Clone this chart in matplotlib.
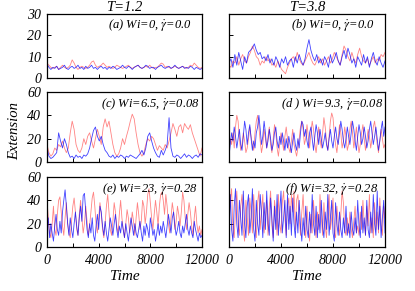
import matplotlib
matplotlib.use('Agg')
import matplotlib.pyplot as plt
import numpy as np

plt.rcParams['font.family'] = ['Liberation Serif', 'DejaVu Serif']
plt.rcParams['mathtext.fontset'] = 'stix'

# time grids (slow panels sampled every 150, fast panels every 100)
t_slow = np.arange(0, 12001, 150)
t_fast = np.arange(0, 12001, 100)

# (a) T=1.2, Wi=0
a_red = [7, 6, 5, 4.5, 5, 5.5, 4, 5, 6, 5,
         4.5, 5, 6, 8.5, 7, 5, 4, 5, 5.5, 5,
         4.5, 5, 6, 7.5, 8, 6, 5, 5.5, 6, 7,
         6, 5, 5.5, 5, 4.5, 5, 6, 5.5, 5, 4.5,
         5, 5.5, 6, 5, 4.5, 5, 5.5, 6, 5, 4.5,
         5, 5.5, 5, 6, 5, 4.5, 5, 5, 6, 7,
         6.5, 5, 5.5, 5, 4.5, 5, 5.5, 5, 4.5, 5,
         5.5, 5, 4.5, 5, 6, 5.5, 7, 6, 5, 4.5,
         5]
a_blue = [6.5, 5, 4, 5, 4.5, 5.5, 4, 4.5, 5, 6,
          4.5, 4, 5, 5.5, 4.5, 5, 6, 4.5, 5, 4,
          5.5, 4.5, 5, 6, 4.5, 5, 4, 5, 5.5, 4.5,
          5, 4, 5, 4.5, 5.5, 5, 4, 4.5, 5, 6,
          5, 4.5, 5.5, 5, 4, 5, 5.5, 6, 5, 4.5,
          5, 6, 5.5, 4.5, 5, 5, 4, 5, 5.5, 6,
          5, 4.5, 5, 5.5, 4.5, 5, 6, 5, 4.5, 5,
          5.5, 4.5, 5, 4.5, 5.5, 5, 4, 5, 4.5, 4,
          4.5]

# (b) T=3.8, Wi=0
b_red = [6, 5, 8, 7, 10, 6, 9, 11, 8, 7,
         10, 12, 15, 13, 10, 9, 6, 8, 7, 10,
         8, 9, 6, 7, 5, 8, 6, 4, 3, 2,
         5, 7, 9, 10, 8, 12, 9, 7, 6, 8,
         10, 12, 9, 7, 6, 8, 10, 7, 9, 6,
         8, 10, 7, 9, 12, 10, 8, 6, 11, 15,
         13, 10, 8, 12, 9, 7, 11, 14, 10, 8,
         7, 9, 6, 8, 10, 7, 9, 8, 11, 10,
         12]
b_blue = [7, 9, 5, 11, 6, 12, 8, 4, 10, 7,
          12, 13, 14, 16, 13, 11, 12, 9, 10, 8,
          11, 7, 9, 6, 10, 8, 5, 9, 7, 10,
          6, 8, 9, 5, 10, 7, 11, 8, 6, 9,
          14, 18, 13, 10, 8, 11, 7, 9, 6, 10,
          8, 5, 11, 7, 9, 12, 8, 6, 10, 13,
          9, 14, 11, 7, 9, 5, 10, 8, 6, 11,
          7, 10, 5, 9, 12, 8, 6, 10, 7, 5,
          8]

# (c) T=1.2, Wi=6.5
c_red = [15, 8, 5, 7, 12, 10, 15, 13, 18, 12,
         8, 12, 25, 35, 28, 15, 10, 8, 12, 20,
         15, 22, 25, 18, 12, 20, 28, 22, 15, 30,
         37, 30, 35, 25, 15, 8, 5, 7, 12, 20,
         15, 22, 28, 35, 41, 37, 25, 15, 8, 5,
         8, 15, 20, 18, 22, 20, 15, 10, 14, 12,
         10, 15, 12, 18, 25, 33, 28, 22, 30, 32,
         25, 33, 30, 28, 32, 25, 20, 15, 10, 5,
         12]
c_blue = [12, 5, 3, 4, 6, 8, 25, 18, 12, 20,
          15, 8, 4, 5, 3, 6, 4, 5, 3, 6,
          5, 7, 12, 20, 27, 30, 22, 18, 22, 15,
          10, 8, 5, 4, 6, 3, 5, 4, 6, 5,
          3, 5, 4, 6, 5, 4, 3, 5, 7, 10,
          6, 12, 22, 25, 18, 12, 8, 5, 4, 10,
          6, 10, 15, 38, 12, 5, 4, 6, 5, 3,
          5, 7, 4, 6, 5, 3, 5, 6, 4, 7,
          6]

# (d) T=3.8, Wi=9.3
d_red = [10, 20, 15, 25, 12, 30, 40, 35, 20, 10,
         15, 25, 18, 8, 12, 20, 30, 22, 15, 10,
         25, 35, 40, 30, 18, 8, 15, 28, 20, 12,
         22, 30, 15, 8, 20, 32, 25, 12, 5, 15,
         25, 18, 10, 22, 30, 20, 12, 8, 18, 28,
         15, 10, 5, 12, 20, 30, 35, 28, 15, 20,
         32, 22, 12, 25, 35, 28, 15, 8, 18, 30,
         20, 12, 25, 38, 30, 18, 10, 22, 35, 42,
         38, 25, 15, 8, 20, 32, 25, 12, 18, 30,
         22, 10, 15, 28, 35, 25, 12, 20, 30, 18,
         8, 15, 25, 32, 20, 10, 18, 28, 22, 12,
         20, 30, 35, 25, 15, 8, 18, 28, 20, 12,
         15]
d_blue = [5, 15, 25, 18, 30, 22, 12, 20, 28, 15,
          10, 22, 35, 28, 15, 25, 32, 20, 10, 18,
          12, 25, 30, 40, 28, 15, 22, 35, 25, 12,
          18, 28, 20, 10, 15, 25, 30, 18, 12, 22,
          15, 25, 18, 10, 20, 12, 22, 15, 8, 18,
          25, 15, 10, 20, 12, 25, 35, 32, 22, 28,
          18, 12, 25, 30, 20, 10, 22, 32, 25, 15,
          28, 20, 12, 18, 25, 15, 10, 20, 28, 18,
          12, 22, 30, 20, 15, 25, 35, 28, 18, 12,
          20, 30, 22, 15, 25, 35, 28, 18, 10, 22,
          32, 25, 15, 20, 30, 22, 12, 18, 28, 35,
          25, 15, 22, 30, 20, 10, 18, 28, 35, 22,
          30]

# (e) T=1.2, Wi=23
e_red = [40, 25, 12, 8, 20, 35, 15, 10, 28, 40,
         43, 30, 18, 10, 25, 38, 20, 12, 8, 22,
         35, 42, 30, 15, 10, 28, 40, 25, 12, 20,
         35, 22, 10, 18, 30, 42, 47, 35, 20, 12,
         25, 38, 28, 15, 8, 20, 35, 45, 30, 15,
         10, 22, 38, 30, 18, 12, 28, 40, 25, 15,
         8, 20, 32, 25, 12, 18, 30, 22, 10, 25,
         38, 28, 15, 22, 40, 35, 20, 30, 45, 50,
         38, 25, 15, 28, 40, 30, 18, 35, 45, 47,
         40, 28, 45, 35, 20, 12, 25, 38, 30, 15,
         22, 35, 28, 18, 30, 47, 40, 25, 15, 28,
         38, 30, 18, 10, 25, 35, 20, 12, 18, 10,
         15]
e_blue = [15, 25, 8, 20, 12, 5, 18, 28, 15, 10,
          22, 12, 30, 40, 49, 35, 20, 10, 25, 15,
          8, 20, 30, 18, 10, 25, 35, 22, 44, 46,
          30, 15, 8, 20, 12, 25, 10, 5, 18, 28,
          15, 35, 30, 18, 10, 22, 12, 5, 15, 25,
          18, 10, 20, 28, 15, 8, 18, 12, 22, 15,
          8, 20, 12, 5, 15, 25, 18, 10, 20, 12,
          8, 15, 22, 12, 5, 18, 10, 20, 15, 8,
          25, 18, 10, 15, 5, 12, 20, 10, 18, 12,
          22, 15, 8, 18, 28, 20, 12, 25, 30, 18,
          10, 15, 22, 12, 8, 18, 12, 20, 28, 15,
          10, 18, 12, 8, 22, 15, 10, 5, 12, 8,
          10]

# (f) T=3.8, Wi=32
f_red = [20, 40, 50, 15, 8, 30, 48, 20, 10, 35,
         45, 15, 5, 40, 25, 10, 42, 30, 12, 45,
         20, 8, 38, 48, 15, 30, 45, 12, 25, 40,
         10, 35, 48, 18, 8, 40, 28, 10, 45, 20,
         12, 38, 48, 25, 10, 35, 42, 20, 45, 30,
         48, 15, 40, 45, 25, 10, 30, 45, 20, 8,
         35, 15, 5, 28, 12, 40, 20, 8, 30, 15,
         45, 25, 10, 38, 18, 8, 30, 45, 15, 25,
         42, 12, 8, 35, 20, 10, 28, 48, 38, 15,
         10, 25, 12, 30, 15, 8, 22, 35, 12, 18,
         10, 30, 15, 40, 20, 10, 35, 18, 45, 12,
         25, 8, 38, 15, 30, 12, 42, 20, 10, 35,
         25]
f_blue = [10, 45, 15, 5, 35, 50, 20, 8, 40, 25,
          10, 48, 20, 8, 35, 45, 12, 25, 50, 15,
          5, 40, 20, 10, 45, 30, 8, 38, 15, 48,
          20, 10, 42, 25, 5, 35, 15, 45, 10, 30,
          48, 12, 25, 40, 8, 45, 15, 35, 10, 42,
          20, 8, 30, 12, 40, 18, 5, 25, 10, 35,
          15, 8, 30, 12, 45, 20, 10, 35, 8, 28,
          12, 40, 18, 8, 30, 15, 45, 10, 25, 40,
          12, 5, 38, 20, 10, 30, 15, 8, 25, 12,
          35, 10, 20, 8, 30, 15, 10, 25, 12, 40,
          18, 8, 35, 12, 25, 10, 40, 15, 8, 30,
          12, 45, 20, 10, 48, 15, 35, 8, 25, 40,
          12]

labels = ['(a) Wi=0, $\\dot{\\gamma}$=0.0', '(b) Wi=0, $\\dot{\\gamma}$=0.0',
          '(c) Wi=6.5, $\\dot{\\gamma}$=0.08', '(d ) Wi=9.3, $\\dot{\\gamma}$=0.08',
          '(e) Wi=23, $\\dot{\\gamma}$=0.28', '(f) Wi=32, $\\dot{\\gamma}$=0.28']
panels = [(t_slow, a_red, a_blue), (t_slow, b_red, b_blue),
          (t_slow, c_red, c_blue), (t_fast, d_red, d_blue),
          (t_fast, e_red, e_blue), (t_fast, f_red, f_blue)]

fig = plt.figure(figsize=(4.15, 2.91), dpi=100)
lefts = [47/415, 229/415]
widths = [155/415, 156/415]
rows = [(213/291, 64/291), (129/291, 70/291), (44/291, 70/291)]
lab_x = [0.935, 0.93, 0.985, 0.99, 0.97, 0.96]

for i, (t, r, b) in enumerate(panels):
    row, col = i // 2, i % 2
    ax = fig.add_axes([lefts[col], rows[row][0], widths[col], rows[row][1]])
    ax.plot(t, r, color='#ff3030', lw=0.6, alpha=0.6)
    ax.plot(t, b, color='#0000ff', lw=0.6, alpha=0.75)
    ax.set_xlim(0, 12000)
    if row == 0:
        ax.set_ylim(0, 30)
        ax.set_yticks([0, 10, 20, 30])
        ax.set_title('T=1.2' if col == 0 else 'T=3.8', fontsize=10.5, pad=1,
                     fontstyle='italic')
    else:
        ax.set_ylim(0, 60)
        ax.set_yticks([0, 20, 40, 60])
    ax.set_xticks(np.arange(0, 12001, 2000))
    if row == 2:
        ax.set_xticklabels(['0', '', '4000', '', '8000', '', '12000'])
        ax.set_xlabel('Time', fontsize=11, labelpad=2.5, fontstyle='italic')
    else:
        ax.set_xticklabels([])
    if col == 1:
        ax.set_yticklabels([])
    ax.tick_params(direction='in', length=3, width=0.7, labelsize=10)
    ax.tick_params(axis='y', pad=4)
    ax.tick_params(axis='x', pad=5)
    for lbl in ax.get_xticklabels() + ax.get_yticklabels():
        lbl.set_fontstyle('italic')
    for s in ax.spines.values():
        s.set_linewidth(0.9)
    ax.text(lab_x[i], 0.83, labels[i], transform=ax.transAxes, ha='right',
            va='center', fontsize=9, fontstyle='italic')

fig.text(0.036, 0.55, 'Extension', rotation=90, ha='center', va='center',
         fontsize=10.5, fontstyle='italic')
plt.savefig('out.png', dpi=100)
